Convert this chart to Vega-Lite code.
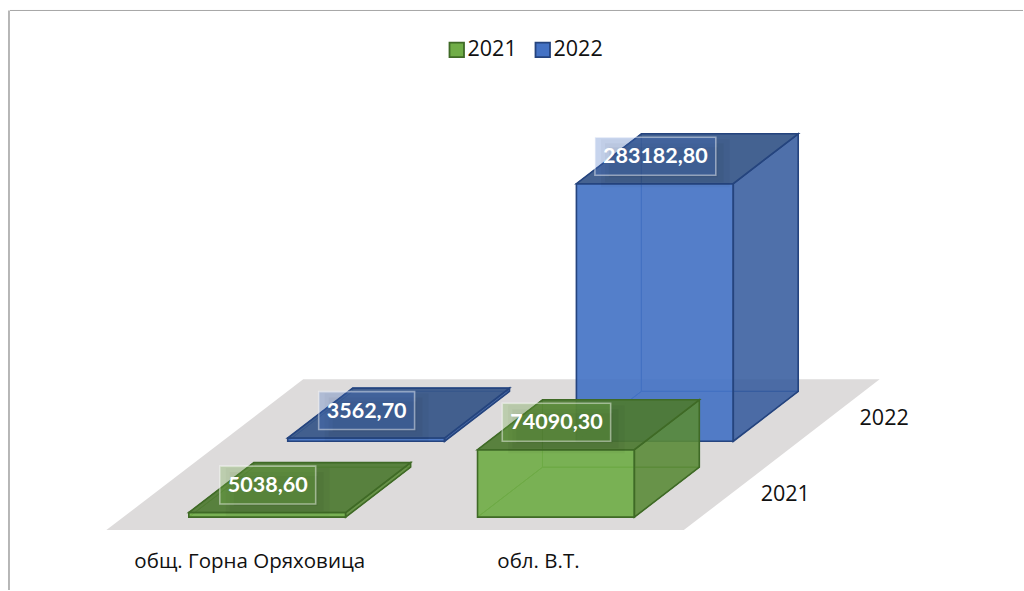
{
"$schema":"https://vega.github.io/schema/vega-lite/v6.json",
"width":1024,"height":591,"autosize":{"type":"fit","contains":"padding"},"padding":0,"background":"#ffffff",
"config":{"view":{"stroke":null},"axis":{"disable":true}},
"data":{"values":[
{"category":"общ. Горна Оряховица","series":"2021","value":5038.6},
{"category":"обл. В.Т.","series":"2021","value":74090.3},
{"category":"общ. Горна Оряховица","series":"2022","value":3562.7},
{"category":"обл. В.Т.","series":"2022","value":283182.8}
]},
"transform":[
{"calculate":"0","as":"ka"},{"calculate":"1","as":"kb"},
{"fold":["ka","kb"],"as":["edge","t"]},
{"calculate":"datum.category=='обл. В.Т.'?1:0","as":"i"},
{"calculate":"datum.series=='2022'?1:0","as":"s"},
{"calculate":"188+289*datum.i+99*datum.s","as":"xl"},
{"calculate":"datum.xl+157","as":"xr"},
{"calculate":"517-76*datum.s","as":"yb"},
{"calculate":"datum.yb-datum.value*258/283182.8","as":"yt"},
{"calculate":"datum.xl+157*datum.t","as":"fx"},
{"calculate":"datum.xl+65+157*datum.t","as":"bx"},
{"calculate":"datum.yt-50","as":"bty"},
{"calculate":"datum.yb-50","as":"bby"},
{"calculate":"datum.xr+65*datum.t","as":"sx"},
{"calculate":"datum.xl+65*datum.t","as":"lx"},
{"calculate":"datum.yt-50*datum.t","as":"ty"},
{"calculate":"datum.yb-50*datum.t","as":"dy"},
{"calculate":"replace(format(datum.value,'.2f'),'.',',')","as":"label"},
{"calculate":"(datum.xl+datum.xr+65)/2-32","as":"cx"},
{"calculate":"(datum.yt+datum.yt-50)/2-2.5","as":"cy"},
{"calculate":"12.5*length(datum.label)+8.5","as":"w"},
{"calculate":"datum.cx-datum.w/2","as":"x0"},
{"calculate":"datum.cx+datum.w/2","as":"x1"},
{"calculate":"datum.cy-19","as":"y0"},
{"calculate":"datum.cy+19","as":"y1"}
],
"layer":[
{"transform":[{"filter":"datum.i==0 && datum.s==0"},{"calculate":"105.5+197*datum.t","as":"a"},{"calculate":"683.5+196*datum.t","as":"b"},{"calculate":"530-151*datum.t","as":"c"}],
 "mark":{"type":"area","orient":"horizontal","fill":"#DDDBDB","stroke":null},
 "encoding":{"y":{"field":"c","type":"quantitative","scale":{"domain":[590,-1],"nice":false,"zero":false}},"x":{"field":"a","type":"quantitative","scale":{"domain":[-1,1023],"nice":false,"zero":false}},"x2":{"field":"b"}}},

{"transform":[{"filter":"datum.s==1"}],"mark":{"type":"area","orient":"horizontal","fill":"#4472C4","fillOpacity":0.15,"stroke":"#3A62AA","strokeWidth":1},
 "encoding":{"y":{"field":"dy","type":"quantitative"},"x":{"field":"lx","type":"quantitative"},"x2":{"field":"sx"},"detail":{"field":"category"}}},
{"transform":[{"filter":"datum.s==1"}],"mark":{"type":"area","orient":"vertical","fill":"#4472C4","fillOpacity":0.15,"stroke":"#3A62AA","strokeWidth":1},
 "encoding":{"x":{"field":"bx","type":"quantitative"},"y":{"field":"bty","type":"quantitative"},"y2":{"field":"bby"},"detail":{"field":"category"}}},
{"transform":[{"filter":"datum.s==1"}],"mark":{"type":"area","orient":"vertical","fill":"#4472C4","fillOpacity":0.1,"stroke":"#3A62AA","strokeWidth":1},
 "encoding":{"x":{"field":"lx","type":"quantitative"},"y":{"field":"ty","type":"quantitative"},"y2":{"field":"dy"},"detail":{"field":"category"}}},
{"transform":[{"filter":"datum.s==1"}],"mark":{"type":"area","orient":"vertical","fillOpacity":0.9,"strokeWidth":1.6},
 "encoding":{"x":{"field":"fx","type":"quantitative"},"y":{"field":"yt","type":"quantitative"},"y2":{"field":"yb"},"detail":{"field":"category"},
  "fill":{"field":"series","type":"nominal","scale":{"domain":["2021","2022"],"range":["#70AD47","#4472C4"]},"legend":{"orient":"none","legendX":446,"legendY":39,"direction":"horizontal","title":null,"symbolType":"square","symbolSize":210,"symbolStrokeWidth":1.8,"symbolOpacity":1,"labelFont":"Open Sans","labelFontSize":21.5,"labelColor":"#111111","labelOffset":0,"columnPadding":14}},
  "stroke":{"field":"series","type":"nominal","scale":{"domain":["2021","2022"],"range":["#3F6A26","#25447E"]}}}},
{"transform":[{"filter":"datum.s==1"}],"mark":{"type":"area","orient":"vertical","fill":"#355A9C","fillOpacity":0.85,"stroke":"#25447E","strokeWidth":1.6},
 "encoding":{"x":{"field":"sx","type":"quantitative"},"y":{"field":"ty","type":"quantitative"},"y2":{"field":"dy"},"detail":{"field":"category"}}},
{"transform":[{"filter":"datum.s==1"}],"mark":{"type":"area","orient":"horizontal","fill":"#365688","fillOpacity":0.92,"stroke":"#25447E","strokeWidth":1.6},
 "encoding":{"y":{"field":"ty","type":"quantitative"},"x":{"field":"lx","type":"quantitative"},"x2":{"field":"sx"},"detail":{"field":"category"}}},

{"transform":[{"filter":"datum.s==0"}],"mark":{"type":"area","orient":"horizontal","fill":"#70AD47","fillOpacity":0.15,"stroke":"#578A35","strokeWidth":1},
 "encoding":{"y":{"field":"dy","type":"quantitative"},"x":{"field":"lx","type":"quantitative"},"x2":{"field":"sx"},"detail":{"field":"category"}}},
{"transform":[{"filter":"datum.s==0"}],"mark":{"type":"area","orient":"vertical","fill":"#70AD47","fillOpacity":0.15,"stroke":"#578A35","strokeWidth":1},
 "encoding":{"x":{"field":"bx","type":"quantitative"},"y":{"field":"bty","type":"quantitative"},"y2":{"field":"bby"},"detail":{"field":"category"}}},
{"transform":[{"filter":"datum.s==0"}],"mark":{"type":"area","orient":"vertical","fill":"#70AD47","fillOpacity":0.1,"stroke":"#578A35","strokeWidth":1},
 "encoding":{"x":{"field":"lx","type":"quantitative"},"y":{"field":"ty","type":"quantitative"},"y2":{"field":"dy"},"detail":{"field":"category"}}},
{"transform":[{"filter":"datum.s==0"}],"mark":{"type":"area","orient":"vertical","fillOpacity":0.9,"strokeWidth":1.6},
 "encoding":{"x":{"field":"fx","type":"quantitative"},"y":{"field":"yt","type":"quantitative"},"y2":{"field":"yb"},"detail":{"field":"category"},
  "fill":{"field":"series","type":"nominal"},"stroke":{"field":"series","type":"nominal"}}},
{"transform":[{"filter":"datum.s==0"}],"mark":{"type":"area","orient":"vertical","fill":"#5A8A38","fillOpacity":0.88,"stroke":"#3F6A26","strokeWidth":1.6},
 "encoding":{"x":{"field":"sx","type":"quantitative"},"y":{"field":"ty","type":"quantitative"},"y2":{"field":"dy"},"detail":{"field":"category"}}},
{"transform":[{"filter":"datum.s==0"}],"mark":{"type":"area","orient":"horizontal","fill":"#4E7932","fillOpacity":0.92,"stroke":"#3F6A26","strokeWidth":1.6},
 "encoding":{"y":{"field":"ty","type":"quantitative"},"x":{"field":"lx","type":"quantitative"},"x2":{"field":"sx"},"detail":{"field":"category"}}},

{"transform":[{"filter":"datum.edge=='ka'"},{"calculate":"datum.x0+14","as":"a"},{"calculate":"datum.x1+2","as":"b"},{"calculate":"datum.y0+10","as":"c"},{"calculate":"datum.y1+2","as":"d"}],
 "mark":{"type":"rect","fill":"#000000","opacity":0.05},
 "encoding":{"x":{"field":"a","type":"quantitative"},"x2":{"field":"b"},"y":{"field":"c","type":"quantitative"},"y2":{"field":"d"}}},
{"transform":[{"filter":"datum.edge=='ka'"},{"calculate":"datum.x0+10","as":"a"},{"calculate":"datum.x1+8","as":"b"},{"calculate":"datum.y0+6","as":"c"},{"calculate":"datum.y1+7","as":"d"}],
 "mark":{"type":"rect","fill":"#000000","opacity":0.04},
 "encoding":{"x":{"field":"a","type":"quantitative"},"x2":{"field":"b"},"y":{"field":"c","type":"quantitative"},"y2":{"field":"d"}}},
{"transform":[{"filter":"datum.edge=='ka'"},{"calculate":"datum.x0+6","as":"a"},{"calculate":"datum.x1+14","as":"b"},{"calculate":"datum.y0+2","as":"c"},{"calculate":"datum.y1+12","as":"d"}],
 "mark":{"type":"rect","fill":"#000000","opacity":0.03},
 "encoding":{"x":{"field":"a","type":"quantitative"},"x2":{"field":"b"},"y":{"field":"c","type":"quantitative"},"y2":{"field":"d"}}},
{"transform":[{"filter":"datum.edge=='ka' && datum.s==0"}],
 "mark":{"type":"rect","fill":"#70AD47","fillOpacity":0.3,"stroke":"#ffffff","strokeOpacity":0.45,"strokeWidth":1.6},
 "encoding":{"x":{"field":"x0","type":"quantitative"},"x2":{"field":"x1"},"y":{"field":"y0","type":"quantitative"},"y2":{"field":"y1"}}},
{"transform":[{"filter":"datum.edge=='ka' && datum.s==1"}],
 "mark":{"type":"rect","fill":"#4472C4","fillOpacity":0.3,"stroke":"#ffffff","strokeOpacity":0.45,"strokeWidth":1.6},
 "encoding":{"x":{"field":"x0","type":"quantitative"},"x2":{"field":"x1"},"y":{"field":"y0","type":"quantitative"},"y2":{"field":"y1"}}},
{"transform":[{"filter":"datum.edge=='ka'"}],
 "mark":{"type":"text","font":"Lato","fontWeight":"bold","fontSize":21.5,"dy":1,"fill":"#ffffff","align":"center","baseline":"middle"},
 "encoding":{"x":{"field":"cx","type":"quantitative"},"y":{"field":"cy","type":"quantitative"},"text":{"field":"label"}}},
{"transform":[{"filter":"datum.edge=='ka' && datum.s==0"},{"calculate":"datum.xl+61","as":"a"},{"calculate":"562","as":"c"}],
 "mark":{"type":"text","font":"Open Sans","fontSize":20.5,"fill":"#111111","align":"center","baseline":"middle"},
 "encoding":{"x":{"field":"a","type":"quantitative"},"y":{"field":"c","type":"quantitative"},"text":{"field":"category"}}},
{"transform":[{"filter":"datum.edge=='ka' && datum.i==1"},{"calculate":"datum.xr+151","as":"a"},{"calculate":"datum.yb-22.5","as":"c"}],
 "mark":{"type":"text","font":"Open Sans","fontSize":21.5,"fill":"#111111","align":"center","baseline":"middle"},
 "encoding":{"x":{"field":"a","type":"quantitative"},"y":{"field":"c","type":"quantitative"},"text":{"field":"series"}}},
{"data":{"values":[{}]},"mark":{"type":"rule","stroke":"#A6A6A6","strokeWidth":1},
 "encoding":{"x":{"datum":9},"x2":{"datum":1023},"y":{"datum":9.5}}},
{"data":{"values":[{}]},"mark":{"type":"rule","stroke":"#A6A6A6","strokeWidth":1.6},
 "encoding":{"x":{"datum":8},"y":{"datum":9.5},"y2":{"datum":590}}}
]
}
